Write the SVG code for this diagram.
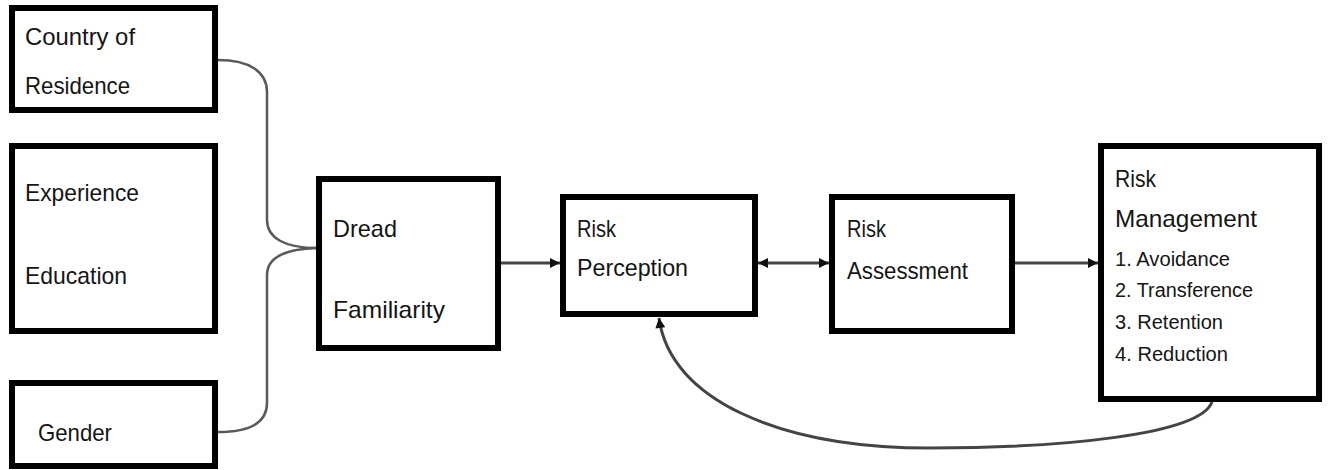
<svg xmlns="http://www.w3.org/2000/svg" width="1328" height="470" viewBox="0 0 1328 470">
<style>
.box{fill:#fff;stroke:#000;stroke-width:6}
.t{font-family:"Liberation Sans",Arial,sans-serif;font-size:24px;fill:#151515}
.s{font-family:"Liberation Sans",Arial,sans-serif;font-size:20px;fill:#151515}
.brace{fill:none;stroke:#5a5a5a;stroke-width:2.5}
.arr{fill:none;stroke:#444;stroke-width:3}
</style>
<defs>
<marker id="ah" viewBox="0 0 10 10" refX="10" refY="5" markerWidth="11" markerHeight="10" markerUnits="userSpaceOnUse" orient="auto-start-reverse">
<path d="M0,0 L10,5 L0,10 z" fill="#111"/>
</marker>
</defs>
<g id="connectors">
<path class="brace" d="M218,60 C250,60 267,72 267,92 L267,220 C267,238 285,248 317,248"/>
<path class="brace" d="M317,248 C285,249 267,258 267,275 L267,403 C267,425 245,432 218,432"/>
<line class="arr" x1="501" y1="263" x2="560" y2="263" marker-end="url(#ah)"/>
<line class="arr" x1="758" y1="263" x2="829" y2="263" marker-start="url(#ah)" marker-end="url(#ah)"/>
<line class="arr" x1="1015" y1="263" x2="1098" y2="263" marker-end="url(#ah)"/>
<path class="arr" d="M1212,402 C1200,435 1060,448 930,448 C780,448 670,400 659,318" marker-end="url(#ah)"/>
</g>
<g id="country">
<rect class="box" x="12" y="8" width="203" height="102"/>
<text class="t" x="25" y="45" textLength="110" lengthAdjust="spacingAndGlyphs">Country of</text>
<text class="t" x="25" y="94" textLength="105" lengthAdjust="spacingAndGlyphs">Residence</text>
</g>
<g id="experience">
<rect class="box" x="12" y="146" width="203" height="185"/>
<text class="t" x="25" y="201" textLength="114" lengthAdjust="spacingAndGlyphs">Experience</text>
<text class="t" x="25" y="284" textLength="102" lengthAdjust="spacingAndGlyphs">Education</text>
</g>
<g id="gender">
<rect class="box" x="12" y="383" width="203" height="83"/>
<text class="t" x="38" y="441" textLength="74" lengthAdjust="spacingAndGlyphs">Gender</text>
</g>
<g id="dread">
<rect class="box" x="319" y="179" width="179" height="169"/>
<text class="t" x="333" y="237" textLength="64" lengthAdjust="spacingAndGlyphs">Dread</text>
<text class="t" x="333" y="318" textLength="112" lengthAdjust="spacingAndGlyphs">Familiarity</text>
</g>
<g id="perception">
<rect class="box" x="563" y="197" width="192" height="117"/>
<text class="t" x="577" y="237" textLength="39" lengthAdjust="spacingAndGlyphs">Risk</text>
<text class="t" x="577" y="276" textLength="111" lengthAdjust="spacingAndGlyphs">Perception</text>
</g>
<g id="assessment">
<rect class="box" x="832" y="197" width="180" height="134"/>
<text class="t" x="847" y="237" textLength="39" lengthAdjust="spacingAndGlyphs">Risk</text>
<text class="t" x="847" y="279" textLength="121" lengthAdjust="spacingAndGlyphs">Assessment</text>
</g>
<g id="management">
<rect class="box" x="1101" y="146" width="218" height="253"/>
<text class="t" x="1115" y="187" textLength="41" lengthAdjust="spacingAndGlyphs">Risk</text>
<text class="t" x="1115" y="227" textLength="142" lengthAdjust="spacingAndGlyphs">Management</text>
<text class="s" x="1115" y="266" textLength="115" lengthAdjust="spacingAndGlyphs">1.  Avoidance</text>
<text class="s" x="1115" y="297" textLength="138" lengthAdjust="spacingAndGlyphs">2. Transference</text>
<text class="s" x="1115" y="329" textLength="108" lengthAdjust="spacingAndGlyphs">3. Retention</text>
<text class="s" x="1115" y="361" textLength="113" lengthAdjust="spacingAndGlyphs">4. Reduction</text>
</g>
</svg>
